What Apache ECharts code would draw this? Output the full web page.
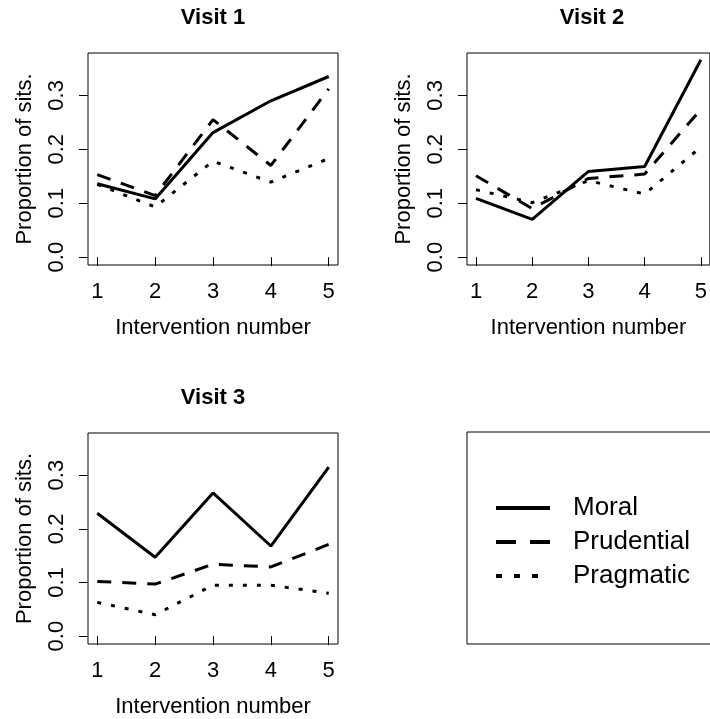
<!DOCTYPE html>
<html lang="en">
<head>
    <meta charset="UTF-8">
    <title>visits</title>
    <script src="https://cdn.jsdelivr.net/npm/echarts@6.0.0/dist/echarts.min.js"></script>
</head>
<body style="margin:0;background:#fff;">
    <div id="main" style="width: 710px;height:719px;"></div>

    <script>
        // values
        var interventions = [1, 2, 3, 4, 5];
        var kinds = ['Moral', 'Prudential', 'Pragmatic'];
        var visitTitles = ['Visit 1', 'Visit 2', 'Visit 3'];
        var yTicks = [0, 0.1, 0.2, 0.3];

        var visit1Moral = [0.136, 0.108, 0.231, 0.290, 0.335];
        var visit1Prudential = [0.153, 0.114, 0.255, 0.170, 0.312];
        var visit1Pragmatic = [0.135, 0.093, 0.178, 0.139, 0.183];

        var visit2Moral = [0.109, 0.070, 0.159, 0.168, 0.366];
        var visit2Prudential = [0.151, 0.090, 0.146, 0.154, 0.274];
        var visit2Pragmatic = [0.125, 0.101, 0.142, 0.117, 0.204];

        var visit3Moral = [0.229, 0.147, 0.267, 0.168, 0.315];
        var visit3Prudential = [0.102, 0.097, 0.134, 0.129, 0.171];
        var visit3Pragmatic = [0.063, 0.040, 0.095, 0.095, 0.080];

        var visitData = [
            [visit1Moral, visit1Prudential, visit1Pragmatic],
            [visit2Moral, visit2Prudential, visit2Pragmatic],
            [visit3Moral, visit3Prudential, visit3Pragmatic]
        ];

        var font = 'Liberation Sans, Arial, sans-serif';
        // box of each panel
        var boxes = [
            { left: 88, top: 53 },
            { left: 467, top: 53 },
            { left: 88, top: 433 }
        ];
        var boxW = 250, boxH = 212;
        var lineTypes = ['solid', [14, 11], [4, 10]];
        var legendTypes = ['solid', [20, 14], [6, 12]];

        var grids = [], xAxes = [], yAxes = [], titles = [], series = [];
        boxes.forEach(function (b, i) {
            grids.push({
                left: b.left, top: b.top, width: boxW, height: boxH,
                show: true, borderColor: '#000', borderWidth: 1,
                backgroundColor: 'transparent', containLabel: false
            });
            titles.push({
                text: visitTitles[i],
                left: b.left + boxW / 2,
                top: b.top - 46,
                textAlign: 'center',
                padding: 0,
                textStyle: { fontFamily: font, fontSize: 22, fontWeight: 'bold', color: '#000' }
            });
            xAxes.push({
                gridIndex: i, type: 'value', min: 0.84, max: 5.16,
                name: 'Intervention number', nameLocation: 'middle', nameGap: 52,
                nameTextStyle: { fontFamily: font, fontSize: 22, color: '#000' },
                axisLine: { show: false },
                splitLine: { show: false },
                axisTick: { show: true, inside: false, length: 9, customValues: interventions,
                    lineStyle: { color: '#000', width: 1 } },
                axisLabel: { customValues: interventions, margin: 16,
                    fontFamily: font, fontSize: 22, color: '#000' }
            });
            yAxes.push({
                gridIndex: i, type: 'value', min: -0.0146, max: 0.3786,
                name: 'Proportion of sits.', nameLocation: 'middle', nameGap: 52,
                nameTextStyle: { fontFamily: font, fontSize: 22, color: '#000' },
                axisLine: { show: false },
                splitLine: { show: false },
                axisTick: { show: true, inside: false, length: 9, customValues: yTicks,
                    lineStyle: { color: '#000', width: 1 } },
                axisLabel: { customValues: yTicks, rotate: 90, margin: 20,
                    fontFamily: font, fontSize: 22, color: '#000',
                    formatter: function (v) { return v.toFixed(1); } }
            });
            kinds.forEach(function (k, j) {
                series.push({
                    name: k, type: 'line', xAxisIndex: i, yAxisIndex: i,
                    symbol: 'none', silent: true, animation: false,
                    lineStyle: { color: '#000', width: 3, type: lineTypes[j] },
                    itemStyle: { color: '#000' },
                    data: interventions.map(function (x, n) { return [x, visitData[i][j][n]]; })
                });
            });
        });

        var myChart = echarts.init(document.getElementById('main'));
        var option = {
            backgroundColor: '#fff',
            animation: false,
            title: titles,
            grid: grids,
            xAxis: xAxes,
            yAxis: yAxes,
            legend: {
                data: kinds.map(function (k, j) {
                    return { name: k, lineStyle: { type: legendTypes[j], width: 4, color: '#000' } };
                }),
                orient: 'vertical',
                left: 494, top: 493,
                padding: 0,
                itemWidth: 54, itemHeight: 2, itemGap: 4,
                selectedMode: false,
                itemStyle: { opacity: 0 },
                textStyle: { fontFamily: font, fontSize: 26, color: '#000', lineHeight: 30,
                    padding: [0, 0, 0, 18] }
            },
            graphic: [{
                type: 'rect',
                shape: { x: 467, y: 432, width: 260, height: 212 },
                style: { fill: 'none', stroke: '#000', lineWidth: 1 }
            }],
            series: series
        };
        myChart.setOption(option);
    </script>
</body>
</html>
